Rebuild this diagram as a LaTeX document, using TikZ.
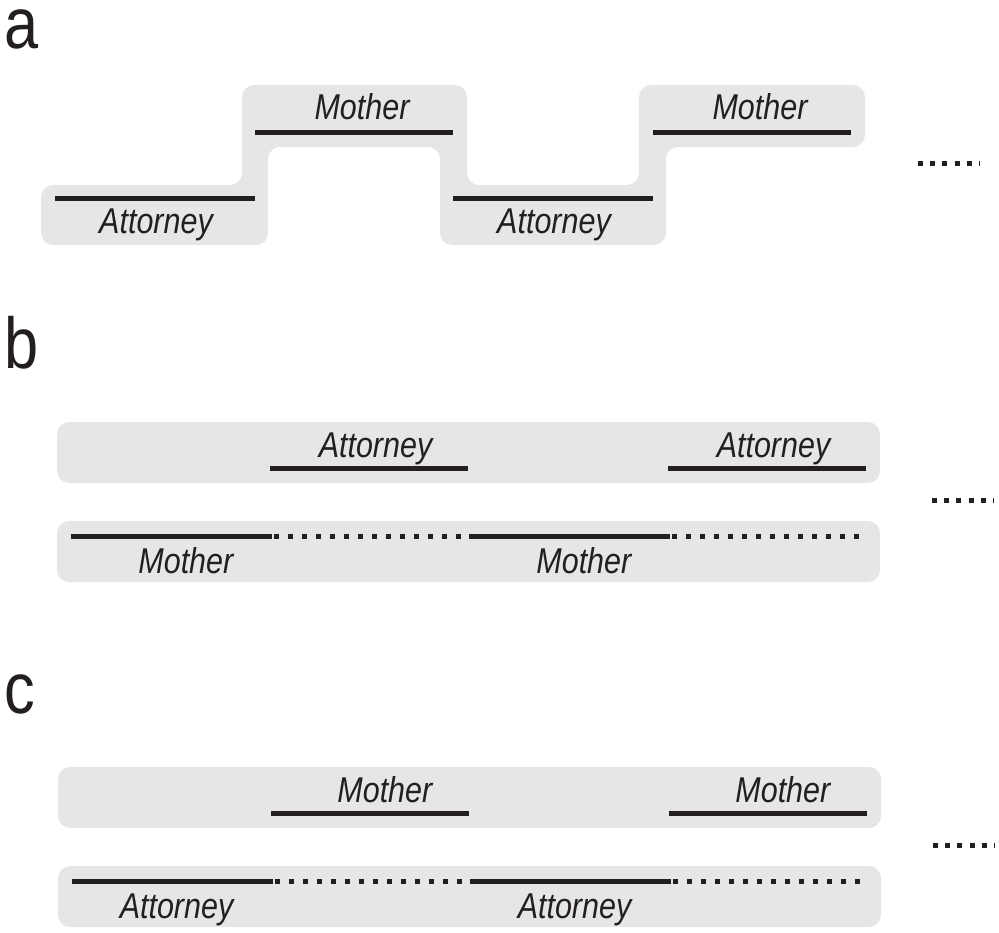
\documentclass[tikz,border=0pt]{standalone}
\usepackage{fontspec}
\setmainfont{Liberation Sans}[FakeStretch=0.85]
\definecolor{shade}{RGB}{230,230,230}
\definecolor{ink}{RGB}{35,31,32}
\tikzstyle{bar}=[fill=shade, rounded corners=0.12cm]
\tikzstyle{track}=[draw=ink, line width=0.05cm]
\tikzstyle{gap}=[track, dash pattern=on 0.05cm off 0.09cm]
\tikzstyle{more}=[track, dash pattern=on 0.05cm off 0.072cm]
\tikzstyle{who}=[inner sep=0pt, text=ink, font=\fontsize{10.2pt}{12pt}\selectfont\itshape]
\tikzstyle{panel}=[anchor=base west, inner sep=0pt, text=ink, font=\fontsize{20.5pt}{24pt}\selectfont]

\begin{document}
\begin{tikzpicture}[x=0.01cm, y=-0.01cm]
	\useasboundingbox (0,0) rectangle (999,933);
	% a: alternating custody
	\node[panel] (pa) at (4,48) {a};
	\fill[bar] (41,185) -- (242,185) -- (242,85) -- (467,85) -- (467,185)
		-- (639,185) -- (639,85) -- (865,85) -- (865,147) -- (666,147)
		-- (666,245) -- (440,245) -- (440,147) -- (268,147) -- (268,245)
		-- (41,245) -- cycle;
	\foreach \s [count=\i] in {0,398} {
		\draw[track] (55+\s,198) -- (255+\s,198);
		\draw[track] (255+\s,132) -- (453+\s,132);
		\node[who, anchor=base] (aatt\i) at (156+\s,233) {Attorney};
		\node[who, anchor=base] (amom\i) at (362+\s,119) {Mother};
	}
	\draw[more] (918,163) -- (980,163);
	% b and c: two parallel bars
	\foreach \p/\oy/\ox/\up/\down in {b/0/0/Attorney/Mother, c/345/1/Mother/Attorney} {
		\node[panel] (p\p) at (4,368+\oy) {\p};
		\fill[bar] (57+\ox,422+\oy) rectangle (880+\ox,483+\oy);
		\fill[bar] (57+\ox,521+\oy) rectangle (880+\ox,582+\oy);
		\foreach \s [count=\i] in {0,398} {
			\draw[track] (270+\ox+\s,468+\oy) -- (468+\ox+\s,468+\oy);
			\draw[track] (71+\ox+\s,536+\oy) -- (272+\ox+\s,536+\oy);
			\draw[gap] (274+\ox+\s,536+\oy) -- (468+\ox+\s,536+\oy);
			\node[who, anchor=base east] (\p up\i) at (433+\s,457+\oy) {\up};
			\node[who, anchor=base east] (\p down\i) at (234+\s,573+\oy) {\down};
		}
		\draw[more] (932+\ox,500+\oy) -- (994+\ox,500+\oy);
	}
\end{tikzpicture}
\end{document}
